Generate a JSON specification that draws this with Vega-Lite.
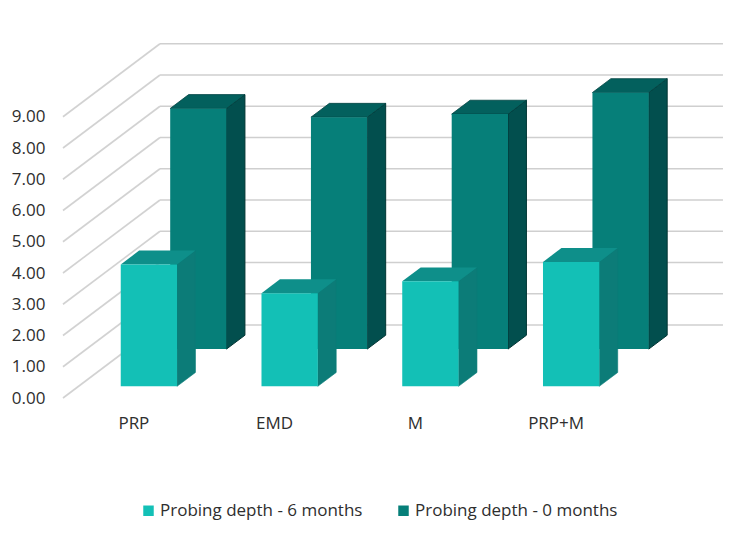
{
"$schema":"https://vega.github.io/schema/vega-lite/v6.json",
"width":750,"height":533,"padding":0,"autosize":{"type":"none"},
"background":"#ffffff",
"config":{"view":{"stroke":null},"font":"Open Sans"},
"data":{"values":[
{"category":"PRP","series":"Probing depth - 6 months","value":3.9},
{"category":"EMD","series":"Probing depth - 6 months","value":2.98},
{"category":"M","series":"Probing depth - 6 months","value":3.36},
{"category":"PRP+M","series":"Probing depth - 6 months","value":3.98},
{"category":"PRP","series":"Probing depth - 0 months","value":7.7},
{"category":"EMD","series":"Probing depth - 0 months","value":7.42},
{"category":"M","series":"Probing depth - 0 months","value":7.52},
{"category":"PRP+M","series":"Probing depth - 0 months","value":8.21}
]},
"transform":[
{"calculate":"indexof(['PRP','EMD','M','PRP+M'],datum.category)","as":"idx"},
{"calculate":"datum.series=='Probing depth - 6 months'?0.16:0.67","as":"d0"},
{"calculate":"datum.d0+0.19","as":"d1"}
],
"encoding":{
"x":{"field":"X","type":"quantitative","stack":null,"scale":{"domain":[-0.4476,4.881],"nice":false,"zero":false},
"axis":{"orient":"bottom","offset":-110,"values":[0.5,1.5,2.5,3.5],"labelExpr":"['PRP','EMD','M','PRP+M'][round(datum.value-0.5)]","domain":false,"ticks":false,"grid":false,"title":null,"labelFontSize":17,"labelColor":"#2e2e2e","labelPadding":0,"labelBaseline":"middle"}},
"y":{"field":"Y","type":"quantitative","stack":null,"scale":{"domain":[-4.32,12.736],"nice":false,"zero":false},
"axis":{"orient":"left","offset":-45,"values":[0,1,2,3,4,5,6,7,8,9],"format":".2f","domain":false,"ticks":false,"grid":false,"title":null,"labelFontSize":17,"labelColor":"#2e2e2e","labelPadding":0}}
},
"layer":[
{"data":{"values":[{"v":0},{"v":1},{"v":2},{"v":3},{"v":4},{"v":5},{"v":6},{"v":7},{"v":8},{"v":9}]},
"transform":[{"calculate":"0","as":"X"},{"calculate":"0.689","as":"X2"},{"calculate":"datum.v","as":"Y"},{"calculate":"datum.v+2.336","as":"Y2"}],
"mark":{"type":"rule","stroke":"#d2d2d2","strokeWidth":1.6},
"encoding":{"x2":{"field":"X2"},"y2":{"field":"Y2"}}},
{"data":{"values":[{"v":0},{"v":1},{"v":2},{"v":3},{"v":4},{"v":5},{"v":6},{"v":7},{"v":8},{"v":9}]},
"transform":[{"calculate":"0.689","as":"X"},{"calculate":"4.689","as":"X2"},{"calculate":"datum.v+2.336","as":"Y"}],
"mark":{"type":"rule","stroke":"#cfcfcf","strokeWidth":1.6},
"encoding":{"x2":{"field":"X2"}}},

{"transform":[{"filter":"datum.series=='Probing depth - 0 months'"},{"fold":["d0","d1"],"as":["end","d"]},{"calculate":"datum.idx+0.7+datum.d*0.689","as":"X"},{"calculate":"datum.d*2.336","as":"Y"},{"calculate":"datum.value+datum.d*2.336","as":"Y2"}],
"mark":{"type":"area","color":"#024f4e","stroke":"#013433","strokeWidth":1},
"encoding":{"y2":{"field":"Y2"},"detail":{"field":"category"}}},
{"transform":[{"filter":"datum.series=='Probing depth - 0 months'"},{"fold":["d0","d1"],"as":["end","d"]},{"calculate":"datum.idx+0.3+datum.d*0.689","as":"X"},{"calculate":"datum.idx+0.7+datum.d*0.689","as":"X2"},{"calculate":"datum.value+datum.d*2.336","as":"Y"}],
"mark":{"type":"area","orient":"horizontal","color":"#03605d","stroke":"#024442","strokeWidth":0.8},
"encoding":{"x2":{"field":"X2"},"detail":{"field":"category"}}},
{"transform":[{"filter":"datum.series=='Probing depth - 0 months'"},{"calculate":"datum.idx+0.3+datum.d0*0.689","as":"X"},{"calculate":"datum.idx+0.7+datum.d0*0.689","as":"X2"},{"calculate":"datum.d0*2.336","as":"Y"},{"calculate":"datum.Y+datum.value","as":"Y2"}],
"mark":{"type":"rect"},
"encoding":{"x2":{"field":"X2"},"y2":{"field":"Y2"},"color":{"field":"series","type":"nominal","scale":{"domain":["Probing depth - 6 months","Probing depth - 0 months"],"range":["#13c0b6","#067f79"]},
"legend":{"orient":"none","legendX":140,"legendY":502,"direction":"horizontal","columns":2,"title":null,"symbolType":"square","symbolSize":110,"labelFontSize":17,"labelLimit":400,"labelColor":"#2e2e2e","columnPadding":32,"labelOffset":3,"symbolStrokeWidth":0}}}},

{"transform":[{"filter":"datum.series=='Probing depth - 6 months'"},{"fold":["d0","d1"],"as":["end","d"]},{"calculate":"datum.idx+0.7+datum.d*0.689","as":"X"},{"calculate":"datum.d*2.336","as":"Y"},{"calculate":"datum.value+datum.d*2.336","as":"Y2"}],
"mark":{"type":"area","color":"#0c7c78","stroke":"#0c7c78","strokeWidth":0.6},
"encoding":{"y2":{"field":"Y2"},"detail":{"field":"category"}}},
{"transform":[{"filter":"datum.series=='Probing depth - 6 months'"},{"fold":["d0","d1"],"as":["end","d"]},{"calculate":"datum.idx+0.3+datum.d*0.689","as":"X"},{"calculate":"datum.idx+0.7+datum.d*0.689","as":"X2"},{"calculate":"datum.value+datum.d*2.336","as":"Y"}],
"mark":{"type":"area","orient":"horizontal","color":"#0e8f8a"},
"encoding":{"x2":{"field":"X2"},"detail":{"field":"category"}}},
{"transform":[{"filter":"datum.series=='Probing depth - 6 months'"},{"calculate":"datum.idx+0.3+datum.d0*0.689","as":"X"},{"calculate":"datum.idx+0.7+datum.d0*0.689","as":"X2"},{"calculate":"datum.d0*2.336","as":"Y"},{"calculate":"datum.Y+datum.value","as":"Y2"}],
"mark":{"type":"rect"},
"encoding":{"x2":{"field":"X2"},"y2":{"field":"Y2"},"color":{"field":"series","type":"nominal"}}}
]
}
